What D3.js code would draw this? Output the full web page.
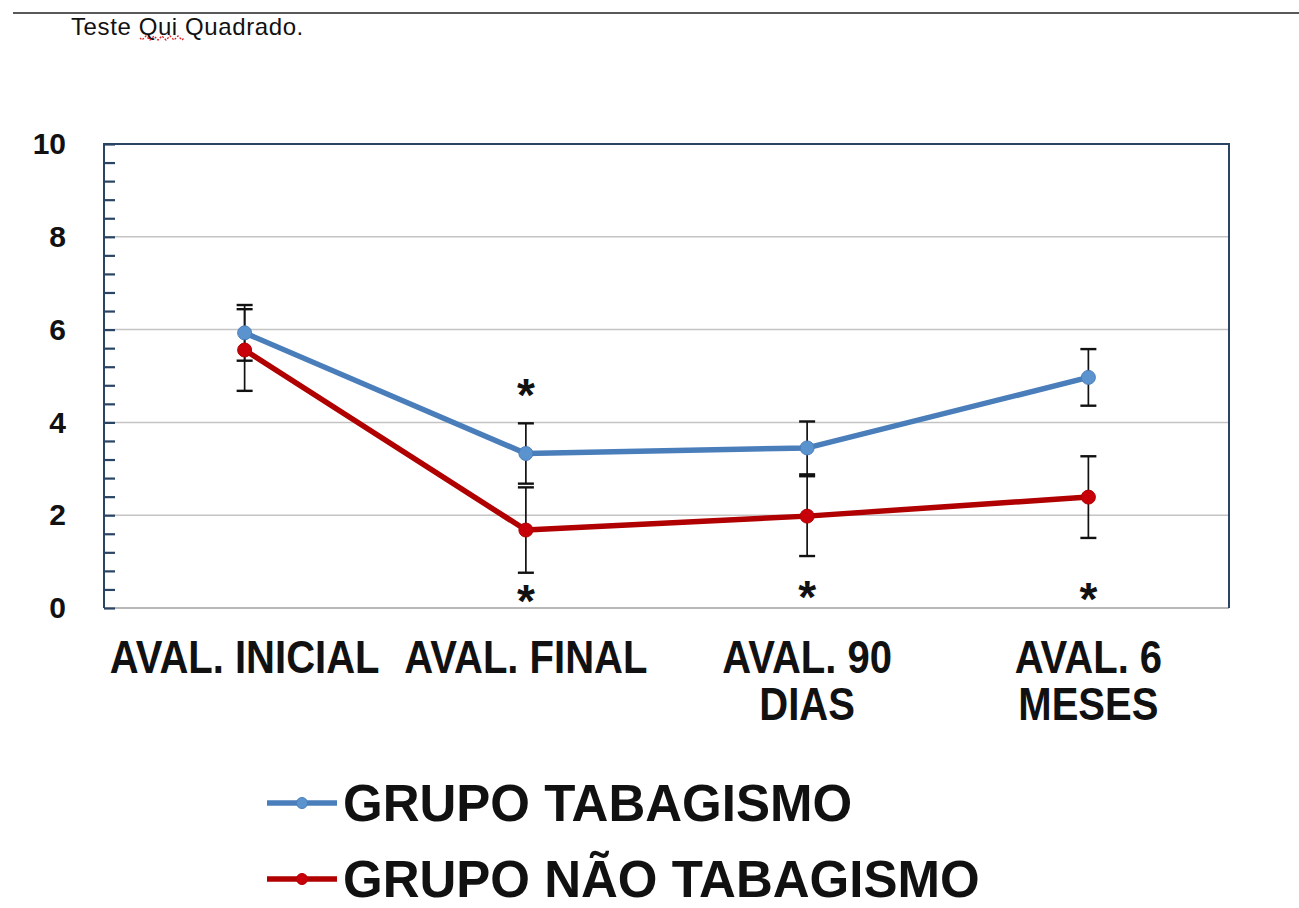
<!DOCTYPE html>
<html><head><meta charset="utf-8">
<script src="https://cdn.jsdelivr.net/npm/d3@7/dist/d3.min.js"></script>
<style>
html,body{margin:0;padding:0;background:#fff;}
svg{display:block;font-family:"Liberation Sans",Arial,sans-serif;}
</style></head>
<body>
<svg id="chart" width="1299" height="908"></svg>
<script>
// ---- data ----
const categories = [["AVAL. INICIAL"], ["AVAL. FINAL"], ["AVAL. 90", "DIAS"], ["AVAL. 6", "MESES"]];
const seriesNames = ["GRUPO TABAGISMO", "GRUPO NÃO TABAGISMO"];
const tabagismo = [5.93, 3.33, 3.45, 4.97];
const tabagismoErr = [0.6, 0.65, 0.57, 0.61];
const naoTabagismo = [5.56, 1.68, 1.98, 2.39];
const naoTabagismoErr = [0.88, 0.92, 0.86, 0.88];
const asteriskAbove = [null, 4.8, null, null];
const asteriskBelow = [null, 0.35, 0.43, 0.39];
const yTicks = [0, 2, 4, 6, 8, 10];
const note = "Teste Qui Quadrado.";

// ---- layout ----
const svg = d3.select("#chart");
const L = 104, R = 1229, T = 144, B = 608;
const catKeys = categories.map(c => c.join(" "));
const x = d3.scaleBand().domain(catKeys).range([L, R]);
const cx = i => x(catKeys[i]) + x.bandwidth() / 2;
const y = d3.scaleLinear().domain([0, 10]).range([B, T]);

const blue = "#4a7ebb", blueMarker = "#5b93cf";
const red = "#b00000", redMarker = "#c8000a";

// top rule + note
svg.append("line").attr("x1", 13).attr("x2", 1299).attr("y1", 13).attr("y2", 13)
  .attr("stroke", "#222").attr("stroke-width", 1.5);
svg.append("text").attr("x", 71).attr("y", 35).attr("font-size", 24)
  .attr("letter-spacing", 0.6).attr("fill", "#111").text(note);
// spell-check squiggle under "Qui"
{
  let d = "M140,38";
  for (let xx = 140; xx < 184; xx += 4) d += ` L${xx + 2},${(xx / 4) % 2 ? 40 : 36} L${xx + 4},38`;
  svg.append("path").attr("d", d).attr("fill", "none").attr("stroke", "#d22")
    .attr("stroke-width", 1.3).attr("stroke-dasharray", "2,1.5");
}

// gridlines
svg.append("g").selectAll("line").data(yTicks.filter(v => v > 0 && v < 10)).join("line")
  .attr("x1", L).attr("x2", R).attr("y1", d => y(d)).attr("y2", d => y(d))
  .attr("stroke", "#c4c4c4").attr("stroke-width", 1.5);
// bottom axis line
svg.append("line").attr("x1", L).attr("x2", R).attr("y1", B).attr("y2", B)
  .attr("stroke", "#b8b8b8").attr("stroke-width", 2);
// frame: top, right, left
svg.append("path").attr("d", `M${L},${B} L${L},${T} L${R},${T} L${R},${B}`)
  .attr("fill", "none").attr("stroke", "#2a4463").attr("stroke-width", 2);

// y axis ticks (inside) and labels
const minor = d3.range(0, 10.001, 0.4).map(v => +v.toFixed(1));
const yAxisMinor = d3.axisRight(y).tickValues(minor).tickSize(11).tickFormat("");
const gMinor = svg.append("g").attr("transform", `translate(${L},0)`).call(yAxisMinor);
gMinor.select(".domain").remove();
gMinor.selectAll(".tick line").attr("stroke", "#2a4463").attr("stroke-width", 2.2);
const yAxis = d3.axisLeft(y).tickValues(yTicks).tickSize(0).tickPadding(38).tickFormat(d3.format("d"));
const gY = svg.append("g").attr("transform", `translate(${L},0)`).call(yAxis);
gY.select(".domain").remove();
gY.selectAll(".tick text").attr("font-size", 30).attr("font-weight", "bold")
  .attr("fill", "#111").attr("font-family", "Liberation Sans, Arial, sans-serif");

// x labels
const xl = svg.append("g");
categories.forEach((lines, i) => {
  lines.forEach((t, j) => {
    xl.append("text")
      .attr("transform", `translate(${cx(i)},${673 + j * 47}) scale(0.87,1)`)
      .attr("text-anchor", "middle").attr("font-size", 46).attr("font-weight", "bold")
      .attr("fill", "#111").text(t);
  });
});

// error bars
function errorBars(vals, errs) {
  const g = svg.append("g").attr("stroke", "#111");
  vals.forEach((v, i) => {
    const xx = cx(i);
    g.append("line").attr("x1", xx).attr("x2", xx).attr("y1", y(v - errs[i])).attr("y2", y(v + errs[i]))
      .attr("stroke-width", 1.7);
    [v - errs[i], v + errs[i]].forEach(e => {
      g.append("line").attr("x1", xx - 8).attr("x2", xx + 8).attr("y1", y(e)).attr("y2", y(e))
        .attr("stroke-width", 2.4);
    });
  });
}
errorBars(tabagismo, tabagismoErr);
errorBars(naoTabagismo, naoTabagismoErr);

// lines
const line = d3.line().x((d, i) => cx(i)).y(d => y(d));
function series(vals, col, mk) {
  svg.append("path").datum(vals).attr("d", line).attr("fill", "none")
    .attr("stroke", col).attr("stroke-width", 5.5).attr("stroke-linejoin", "round");
  svg.append("g").selectAll("circle").data(vals).join("circle")
    .attr("cx", (d, i) => cx(i)).attr("cy", d => y(d)).attr("r", 7)
    .attr("fill", mk).attr("stroke", col).attr("stroke-width", 1);
}
series(tabagismo, blue, blueMarker);
series(naoTabagismo, red, redMarker);

// asterisks
const astSize = 46;
[asteriskAbove, asteriskBelow].forEach(arr => {
  arr.forEach((v, i) => {
    if (v == null) return;
    svg.append("text").attr("x", cx(i)).attr("y", y(v) + astSize * 0.55)
      .attr("text-anchor", "middle").attr("font-size", astSize).attr("font-weight", "bold")
      .attr("fill", "#111").text("*");
  });
});

// legend
const legCols = [[blue, blueMarker], [red, redMarker]];
seriesNames.forEach((name, k) => {
  const yy = 803 + k * 76;
  const g = svg.append("g");
  g.append("line").attr("x1", 267).attr("x2", 337).attr("y1", yy).attr("y2", yy)
    .attr("stroke", legCols[k][0]).attr("stroke-width", 5.5);
  g.append("circle").attr("cx", 302).attr("cy", yy).attr("r", 5.5)
    .attr("fill", legCols[k][1]).attr("stroke", legCols[k][0]);
  g.append("text").attr("x", 343).attr("y", yy + 18).attr("font-size", 51)
    .attr("font-weight", "bold").attr("fill", "#111").text(name);
});
</script>
</body></html>
